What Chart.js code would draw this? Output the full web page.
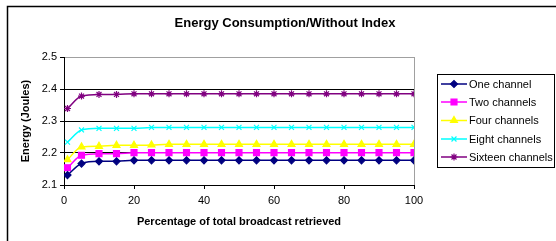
<!DOCTYPE html>
<html><head><meta charset="utf-8">
<script src="https://cdn.jsdelivr.net/npm/chart.js@4/dist/chart.umd.min.js"></script>
<style>html,body{margin:0;padding:0;background:#fff}#wrap{width:556px;height:241px}</style>
</head><body><div id="wrap"><canvas id="c" width="556" height="241"></canvas></div>
<script>
const chartTitle = 'Energy Consumption/Without Index';
const xTitle = 'Percentage of total broadcast retrieved';
const yTitle = 'Energy (Joules)';
const xValues = [1,5,10,15,20,25,30,35,40,45,50,55,60,65,70,75,80,85,90,95,100];
const xTicks = [0,20,40,60,80,100];
const yTicks = [2.1,2.2,2.3,2.4,2.5];
const seriesNames = ['One channel','Two channels','Four channels','Eight channels','Sixteen channels'];
const oneChannel = [2.131,2.167,2.174,2.174,2.177,2.177,2.177,2.177,2.177,2.177,2.177,2.177,2.177,2.177,2.177,2.177,2.177,2.177,2.177,2.177,2.177];
const twoChannels = [2.154,2.193,2.198,2.198,2.201,2.201,2.201,2.201,2.201,2.201,2.201,2.201,2.201,2.201,2.201,2.201,2.201,2.201,2.201,2.201,2.201];
const fourChannels = [2.179,2.219,2.221,2.224,2.224,2.225,2.227,2.227,2.227,2.227,2.227,2.227,2.227,2.227,2.227,2.227,2.227,2.227,2.227,2.227,2.227];
const eightChannels = [2.234,2.272,2.277,2.277,2.277,2.280,2.280,2.280,2.280,2.280,2.280,2.280,2.280,2.280,2.280,2.280,2.280,2.280,2.280,2.280,2.280];
const sixteenChannels = [2.339,2.378,2.383,2.383,2.385,2.385,2.385,2.385,2.385,2.385,2.385,2.385,2.385,2.385,2.385,2.385,2.385,2.385,2.385,2.385,2.385];

const seriesValues = [oneChannel,twoChannels,fourChannels,eightChannels,sixteenChannels];
const colors = ['#000080','#ff00ff','#ffff00','#00ffff','#800080'];
const styles = ['rectRot','rect','triangle','crossRot','star'];
const radii = [3.5,4.2,4,3.5,3.5];
const FONT = '"Liberation Sans", Arial, sans-serif';

const datasets = seriesValues.map((vals,i)=>({
  label: seriesNames[i],
  data: vals.map((v,j)=>({x:xValues[j], y:v})),
  borderColor: colors[i],
  backgroundColor: colors[i],
  pointBackgroundColor: colors[i],
  pointBorderColor: colors[i],
  pointStyle: styles[i],
  pointRadius: radii[i],
  pointBorderWidth: 1.2,
  borderWidth: 1.5,
  tension: 0.4,
  cubicInterpolationMode: 'monotone'
}));

const framePlugin = {
  id: 'frame',
  afterDraw(chart){
    const ctx = chart.ctx;
    ctx.save();
    ctx.strokeStyle = '#000';
    ctx.lineWidth = 1.5;
    ctx.beginPath();
    ctx.moveTo(7.5, 241); ctx.lineTo(7.5, 6.5); ctx.lineTo(556, 6.5);
    ctx.stroke();
    // legend
    const L = 437.5, T = 74.5, R = 554.5, B = 167.5;
    ctx.lineWidth = 1;
    ctx.strokeStyle = '#000';
    ctx.strokeRect(L, T, R-L, B-T);
    const rows = [84,102,120.5,139,157];
    chart.data.datasets.forEach((ds,i)=>{
      const y = rows[i];
      ctx.strokeStyle = ds.borderColor;
      ctx.lineWidth = 1.5;
      ctx.beginPath(); ctx.moveTo(441, y); ctx.lineTo(467, y); ctx.stroke();
      ctx.fillStyle = ds.pointBackgroundColor;
      ctx.strokeStyle = ds.pointBorderColor;
      ctx.lineWidth = 1.2;
      Chart.helpers.drawPoint(ctx, {pointStyle: ds.pointStyle, radius: ds.pointRadius, rotation: 0, borderWidth: 1.2}, 454, y);
      ctx.fillStyle = '#000';
      ctx.font = '11px ' + FONT;
      ctx.textBaseline = 'middle';
      ctx.textAlign = 'left';
      ctx.fillText(ds.label, 469, y+0.5);
    });
    ctx.restore();
  }
};

new Chart(document.getElementById('c'), {
  type: 'line',
  data: { datasets },
  options: {
    responsive: false,
    animation: false,
    devicePixelRatio: 1,
    layout: { padding: { left: 14, right: 0, top: 0, bottom: 0 } },
    plugins: {
      legend: { display: false },
      tooltip: { enabled: false },
      title: {
        display: true, text: chartTitle, color: '#000',
        font: { family: FONT, size: 13, weight: 'bold', lineHeight: 1.2 },
        padding: { top: 15.2, bottom: 26.2 }
      }
    },
    scales: {
      x: {
        type: 'linear', min: 0, max: 100,
        afterBuildTicks(s){ s.ticks = xTicks.map(v=>({value:v})); },
        afterFit(s){ s.height = 56; },
        grid: {
          drawOnChartArea: true,
          color: c => (c.tick && c.tick.value === 100) ? '#a0a0a0' : 'rgba(0,0,0,0)',
          tickColor: '#000', tickLength: 4, lineWidth: 1
        },
        border: { color: '#000', width: 1 },
        ticks: { color: '#000', font: { family: FONT, size: 11 }, padding: 5, maxRotation: 0 },
        title: { display: true, text: xTitle, color: '#000', font: { family: FONT, size: 11, weight: 'bold', lineHeight: 1.2 }, padding: { top: 0, bottom: 12.4 } }
      },
      y: {
        type: 'linear', min: 2.1, max: 2.5,
        afterBuildTicks(s){ s.ticks = yTicks.map(v=>({value:v})); },
        afterFit(s){ s.width = 50; },
        grid: {
          color: c => (c.tick && Math.abs(c.tick.value - 2.5) < 1e-9) ? '#a0a0a0' : '#000',
          tickColor: '#000', tickLength: 4, lineWidth: 1
        },
        border: { color: '#000', width: 1 },
        ticks: { color: '#000', font: { family: FONT, size: 11 }, padding: 3, callback: v => v.toFixed(1) },
        title: { display: true, text: yTitle, color: '#000', font: { family: FONT, size: 11, weight: 'bold', lineHeight: 1.2 }, padding: { top: 5.5, bottom: 0 } }
      },
      y2: {
        type: 'linear', position: 'right', display: true,
        afterFit(s){ s.width = 142; },
        grid: { display: false, drawOnChartArea: false },
        border: { display: false },
        ticks: { display: false }
      }
    }
  },
  plugins: [framePlugin]
});
</script>
</body></html>
